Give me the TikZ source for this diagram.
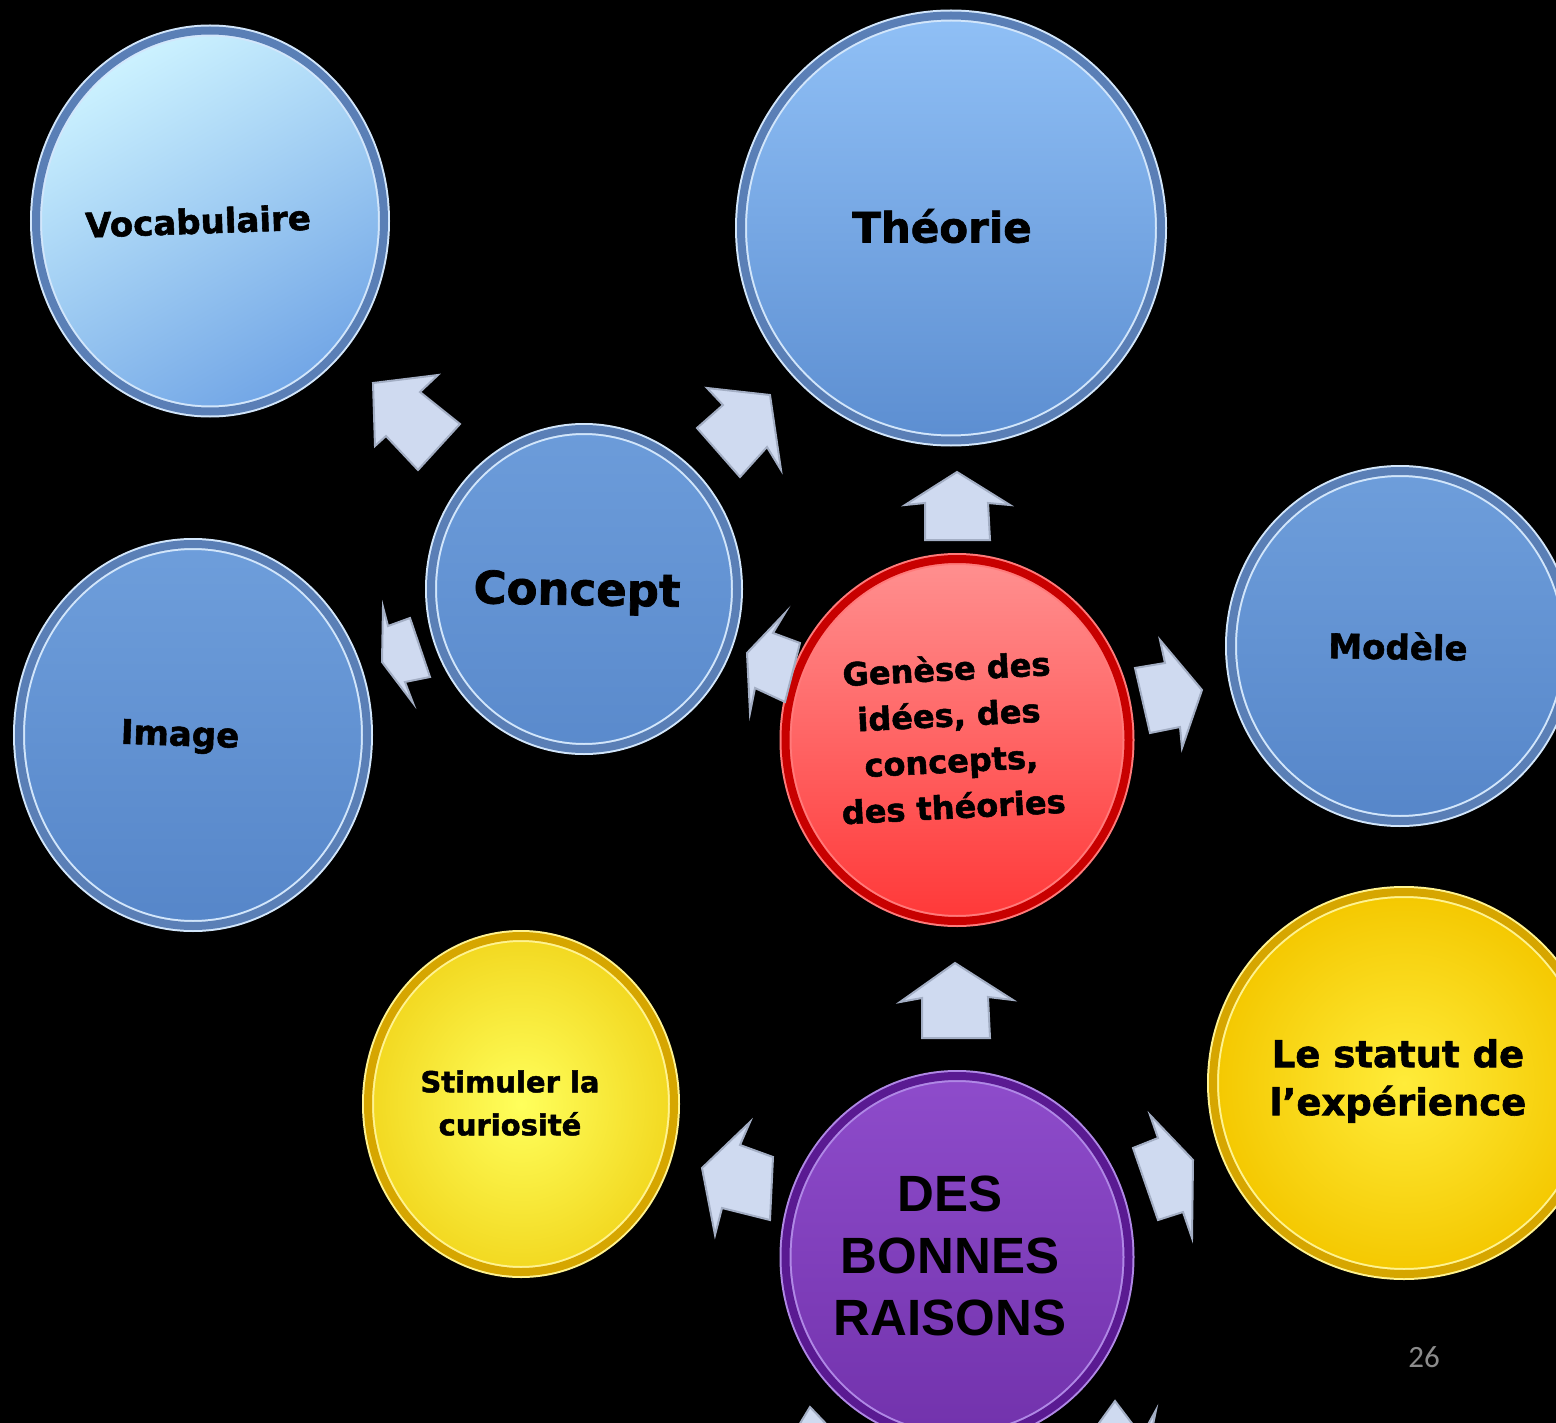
\documentclass[tikz,border=0pt]{standalone}
\usepackage{fontspec}
\setmainfont{DejaVu Sans}[BoldFeatures={FakeBold=1.6}]
\newfontfamily\arialbold{Liberation Sans}
\newfontfamily\calibri{Carlito}
\usetikzlibrary{shapes.geometric}

\definecolor{ringblue}{HTML}{5A7FB6}
\definecolor{ringbluehl}{HTML}{D2E6FB}
\definecolor{ringred}{HTML}{C80000}
\definecolor{ringredhl}{HTML}{FF7A7A}
\definecolor{ringyel}{HTML}{D6A600}
\definecolor{ringyelhl}{HTML}{FFF390}
\definecolor{ringpur}{HTML}{5A1A92}
\definecolor{ringpurhl}{HTML}{B088E6}
\definecolor{arrowfill}{HTML}{CFDAF0}
\definecolor{arrowedge}{HTML}{A3AEC4}
\definecolor{pagenum}{HTML}{8C8C8C}
\definecolor{vocTop}{HTML}{CCF2FF}
\definecolor{vocBot}{HTML}{72A6E6}
\definecolor{theoTop}{HTML}{90C0F6}
\definecolor{theoBot}{HTML}{5C8ED1}
\definecolor{concTop}{HTML}{6C9CDA}
\definecolor{concBot}{HTML}{5A8ACC}
\definecolor{imgTop}{HTML}{6E9EDB}
\definecolor{imgBot}{HTML}{5686C9}
\definecolor{redTop}{HTML}{FF9090}
\definecolor{redBot}{HTML}{FF3838}
\definecolor{stimIn}{HTML}{FFFF5C}
\definecolor{stimOut}{HTML}{F2D820}
\definecolor{statIn}{HTML}{FFEC3A}
\definecolor{statOut}{HTML}{F4C800}
\definecolor{purTop}{HTML}{8E4CCB}
\definecolor{purBot}{HTML}{7232AC}

\tikzset{
  btn/.style={ellipse, inner sep=0pt, line width=2pt, double distance=8pt},
  bluebtn/.style={btn, draw=ringbluehl, double=ringblue},
  redbtn/.style={btn, draw=ringredhl, double=ringred},
  yelbtn/.style={btn, draw=ringyelhl, double=ringyel},
  purbtn/.style={btn, draw=ringpurhl, double=ringpur},
  lbl/.style={font=\bfseries, text=black, align=center, inner sep=0pt},
  blockarrow/.style={fill=arrowfill, draw=arrowedge, line width=2pt, line join=miter},
}

\begin{document}
\begin{tikzpicture}[x=1pt,y=-1pt]
\useasboundingbox (0,0) rectangle (1556,1423);
\fill[black] (0,0) rectangle (1556,1423);
\clip (0,0) rectangle (1556,1423);

% ---------- circles ----------
\node[bluebtn, minimum width=348pt, minimum height=381pt,
      top color=vocTop, bottom color=vocBot, shading angle=30] (voc) at (210,221) {};
\node[bluebtn, minimum width=420pt, minimum height=425pt,
      top color=theoTop, bottom color=theoBot] (theo) at (951,228) {};
\node[bluebtn, minimum width=306pt, minimum height=320pt,
      top color=concTop, bottom color=concBot] (concept) at (584,589) {};
\node[bluebtn, minimum width=348pt, minimum height=382pt,
      top color=imgTop, bottom color=imgBot] (image) at (193,735) {};
\node[bluebtn, minimum width=338pt, minimum height=350pt,
      top color=imgTop, bottom color=imgBot] (modele) at (1400,646) {};
\node[redbtn, minimum width=343pt, minimum height=362pt,
      top color=redTop, bottom color=redBot] (genese) at (957,740) {};
\node[yelbtn, minimum width=306pt, minimum height=336pt,
      inner color=stimIn, outer color=stimOut] (stim) at (521,1104) {};
\node[yelbtn, minimum width=382pt, minimum height=382pt,
      inner color=statIn, outer color=statOut] (statut) at (1404,1083) {};
\node[purbtn, minimum width=343pt, minimum height=362pt,
      top color=purTop, bottom color=purBot] (des) at (957,1257) {};

% ---------- labels ----------
\node[lbl, font=\fontsize{34}{40}\selectfont\bfseries, rotate=2] (vocT) at (198,221) {Vocabulaire};
\node[lbl, font=\fontsize{42}{48}\selectfont\bfseries] (theoT) at (942,226) {Théorie};
\node[lbl, font=\fontsize{45}{52}\selectfont\bfseries, rotate=-1] (conceptT) at (577,593) {Concept};
\node[lbl, font=\fontsize{34}{40}\selectfont\bfseries, rotate=-2] (imageT) at (180,737) {Image};
\node[lbl, font=\fontsize{34}{40}\selectfont\bfseries, rotate=-1] (modeleT) at (1398,646) {Modèle};
\node[lbl, font=\fontsize{32}{46}\selectfont\bfseries, rotate=3] (geneseT) at (950,737)
  {Genèse des\\idées, des\\concepts,\\des théories};
\node[lbl, font=\fontsize{29}{43}\selectfont\bfseries] (stimT) at (510,1103) {Stimuler la\\curiosité};
\node[lbl, font=\fontsize{37}{48}\selectfont\bfseries] (statutT) at (1398,1081) {Le statut de\\l’expérience};
\node[lbl, font=\fontsize{51}{62}\selectfont\arialbold\bfseries] (desT) at (950,1256) {DES\\BONNES\\RAISONS};
\node[font=\fontsize{31}{36}\selectfont\calibri, text=pagenum, inner sep=0pt] (page) at (1424,1357) {26};

% ---------- block arrows ----------
% Concept -> Vocabulaire
\draw[blockarrow] (373,383) -- (438,375) -- (420,392) -- (460,424) -- (418,470) -- (386,436) -- (375,446) -- cycle;
% Concept -> Theorie
\draw[blockarrow] (770,395) -- (781,470) -- (767,447) -- (740,477) -- (697,428) -- (723,405) -- (707,388) -- cycle;
% Genese -> Theorie
\draw[blockarrow] (957,472) -- (1010,505) -- (988,503) -- (990,540) -- (925,540) -- (925,503) -- (905,505) -- cycle;
% Concept -> Image
\draw[blockarrow] (382,662) -- (383,607) -- (388,626) -- (410,618) -- (430,677) -- (405,682) -- (413,703) -- cycle;
% Genese -> Concept
\draw[blockarrow] (747,653) -- (785,613) -- (773,633) -- (800,643) -- (785,702) -- (755,688) -- (750,713) -- cycle;
% Genese -> Modele
\draw[blockarrow] (1202,690) -- (1182,748) -- (1180,727) -- (1150,733) -- (1135,668) -- (1165,663) -- (1160,640) -- cycle;
% Des -> Genese
\draw[blockarrow] (955,963) -- (1013,1000) -- (988,997) -- (990,1038) -- (922,1038) -- (922,998) -- (900,1002) -- cycle;
% Des -> Stimuler
\draw[blockarrow] (702,1168) -- (750,1122) -- (740,1145) -- (773,1157) -- (770,1220) -- (722,1208) -- (715,1235) -- cycle;
% Des -> Statut
\draw[blockarrow] (1193,1160) -- (1192,1238) -- (1183,1212) -- (1158,1220) -- (1133,1148) -- (1158,1138) -- (1150,1115) -- cycle;
% partial arrows at bottom
\draw[blockarrow] (796,1430) -- (810,1407) -- (832,1430) -- cycle;
\draw[blockarrow] (1094,1430) -- (1115,1401) -- (1137,1430) -- cycle;
\draw[blockarrow] (1145,1430) -- (1156,1410) -- (1152,1430) -- cycle;
\end{tikzpicture}
\end{document}
